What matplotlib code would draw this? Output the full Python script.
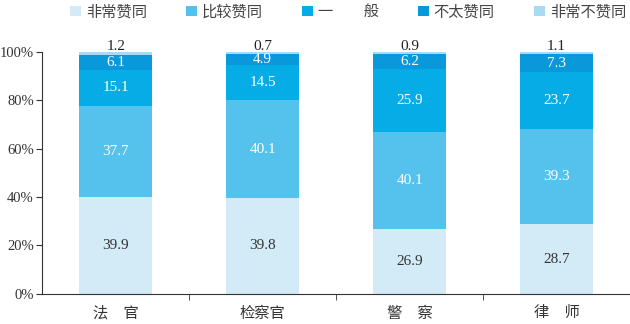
import matplotlib
matplotlib.use("Agg")
import matplotlib.pyplot as plt
import numpy as np

plt.rcParams["font.family"] = ["Liberation Serif", "Noto Sans CJK SC"]

groups = ["法\u3000官", "检察官", "警\u3000察", "律\u3000师"]
series_names = ["非常赞同", "比较赞同", "一\u3000\u3000般", "不太赞同", "非常不赞同"]
very_agree = [39.9, 39.8, 26.9, 28.7]
agree = [37.7, 40.1, 40.1, 39.3]
neutral = [15.1, 14.5, 25.9, 23.7]
disagree = [6.1, 4.9, 6.2, 7.3]
very_disagree = [1.2, 0.7, 0.9, 1.1]

colors = ["#d3eaf7", "#55c1ed", "#05ace5", "#0998da", "#a6dbf3"]
label_colors = ["#333333", "white", "white", "white", "#222222"]


def main():
    fig = plt.figure(figsize=(6.3, 3.24), dpi=100)
    ax = fig.add_axes([0.067, 0.093, 0.933, 0.747])

    x = np.arange(len(groups))
    bottom = np.zeros(len(groups))
    all_series = [very_agree, agree, neutral, disagree, very_disagree]
    for i, vals in enumerate(all_series):
        vals = np.array(vals)
        ax.bar(x, vals, 0.5, bottom=bottom, color=colors[i], label=series_names[i])
        for xi, v, b in zip(x, vals, bottom):
            if i == len(all_series) - 1:
                y = b + v + 2.0
            else:
                y = b + v / 2
            ax.text(xi, y, f"{v:.1f}", ha="center", va="center",
                    fontsize=11, color=label_colors[i])
        bottom += vals

    ax.set_xlim(-0.5, 3.5)
    ax.set_ylim(0, 100)
    ax.set_yticks(range(0, 101, 20))
    ax.set_yticklabels([f"{t}%" for t in range(0, 101, 20)], fontsize=10.5, color="#333333")
    ax.set_xticks(x)
    ax.set_xticklabels(groups, fontsize=11, color="#333333")
    ax.tick_params(axis="x", which="major", length=0, pad=9)
    ax.set_xticks([0.5, 1.5, 2.5], minor=True)
    ax.tick_params(axis="x", which="minor", length=4, direction="out", color="#333333")
    ax.tick_params(axis="y", length=4, color="#333333", pad=2)
    for s in ["top", "right"]:
        ax.spines[s].set_visible(False)
    for s in ["left", "bottom"]:
        ax.spines[s].set_color("#333333")

    fig.legend(loc="upper left", bbox_to_anchor=(0.09, 1.028), ncol=5, frameon=False,
               fontsize=11, handlelength=0.7, handleheight=0.7, handletextpad=0.3,
               columnspacing=2.6, labelcolor="#444444")

    fig.savefig("out.png", dpi=100)


if __name__ == "__main__":
    main()
